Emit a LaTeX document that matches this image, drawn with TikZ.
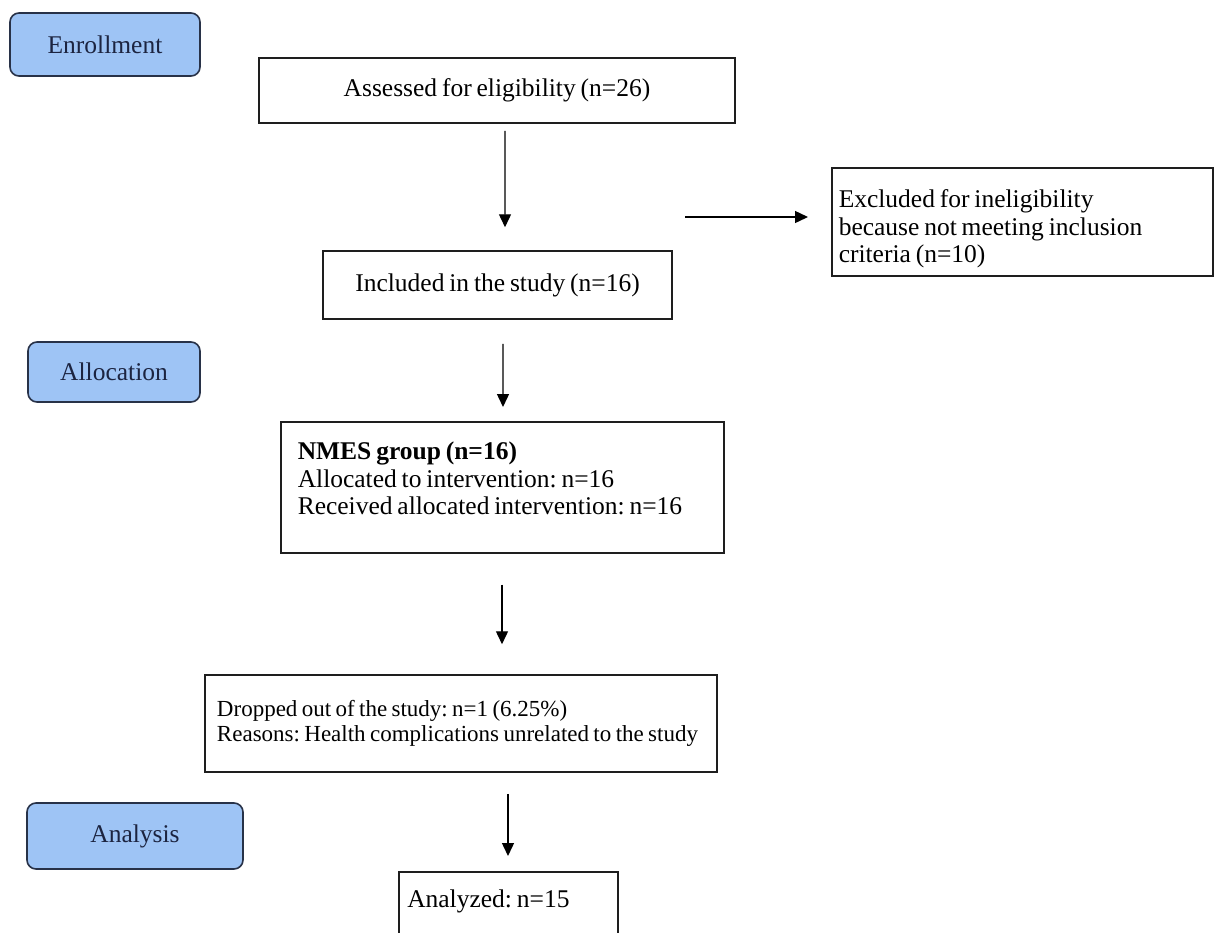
\documentclass[tikz,border=0pt]{standalone}
\usepackage{fontspec}
\setmainfont{Liberation Serif}
\usetikzlibrary{arrows.meta}
\definecolor{phasefill}{RGB}{158,196,245}
\definecolor{phasedraw}{RGB}{40,50,72}
\definecolor{phasetext}{RGB}{28,36,64}
\definecolor{boxline}{RGB}{30,30,30}
\newcommand{\tightsp}{\frenchspacing\spaceskip=0.19em plus 0.1em minus 0.05em\relax}
\tikzset{
  txt/.style={font=\fontsize{25.5bp}{27.5bp}\selectfont, execute at begin node=\tightsp},
  phase/.style={txt, draw=phasedraw, fill=phasefill, line width=1.6bp,
    rounded corners=9bp, text=phasetext, inner sep=0pt},
  flowbox/.style={txt, draw=boxline, line width=1.5bp, inner sep=0pt},
  arr/.style={draw=black, line width=1.4bp, -{Triangle[length=13bp,width=12bp]}}
}
\begin{document}
\begin{tikzpicture}[x=1bp,y=-1bp]
\fill[white] (0,0) rectangle (1217,933);
\clip (0,0) rectangle (1217,933);
% phase labels
\node[phase, minimum width=190bp, minimum height=63bp] (enroll) at (105,44.5) {Enrollment};
\node[phase, minimum width=172bp, minimum height=60bp] (alloc) at (114,372) {Allocation};
\node[phase, minimum width=216bp, minimum height=66bp] (analysis) at (135,836) {Analysis};
% flow boxes
\node[flowbox, minimum width=476bp, minimum height=65bp] (assessed) at (497,90.5) {Assessed for eligibility (n=26)};
\node[flowbox, minimum width=349bp, minimum height=68bp] (included) at (497.5,285) {Included in the study (n=16)};
\node[flowbox, anchor=north west, align=left, text width=367bp, inner xsep=7bp, inner ysep=0pt,
  text depth=68bp] (excluded) at (831,167)
  {\rule{0pt}{40bp}Excluded for ineligibility\\because not meeting inclusion\\criteria (n=10)};
\node[flowbox, anchor=north west, align=left, text width=409bp, inner xsep=17bp, inner ysep=0pt,
  text depth=93bp] (nmes) at (280,421)
  {\rule{0pt}{38bp}\textbf{NMES group (n=16)}\\Allocated to intervention: n=16\\Received allocated intervention: n=16};
\node[flowbox, font=\fontsize{23bp}{24.5bp}\selectfont, minimum width=512bp, minimum height=97bp,
  align=left, text width=488bp, inner xsep=12bp] (dropped) at (461,723.5)
  {Dropped out of the study: n=1 (6.25\%)\\Reasons: Health complications unrelated to the study};
\node[flowbox, anchor=north west, align=left, text width=202bp, inner xsep=8.5bp, inner ysep=0pt,
  text depth=60bp] (analyzed) at (398,871) {\rule{0pt}{36bp}Analyzed: n=15};
% connectors
\draw[arr, shorten <=7bp, shorten >=23bp] ([xshift=8bp]assessed.south) -- ([xshift=7.5bp]included.north);
\coordinate (exfrom) at (685,217);
\coordinate (exto) at (808,217);
\draw[arr] (exfrom) -- (exto);
\draw[arr, shorten <=24bp, shorten >=14bp] ([xshift=5.5bp]included.south) -- (nmes.north -| 503,0);
\draw[arr, shorten <=31bp, shorten >=30bp] (nmes.south -| 502,0) -- (dropped.north -| 502,0);
\draw[arr, shorten <=21bp, shorten >=15bp] (dropped.south -| 508,0) -- (analyzed.north -| 508,0);
\end{tikzpicture}
\end{document}
